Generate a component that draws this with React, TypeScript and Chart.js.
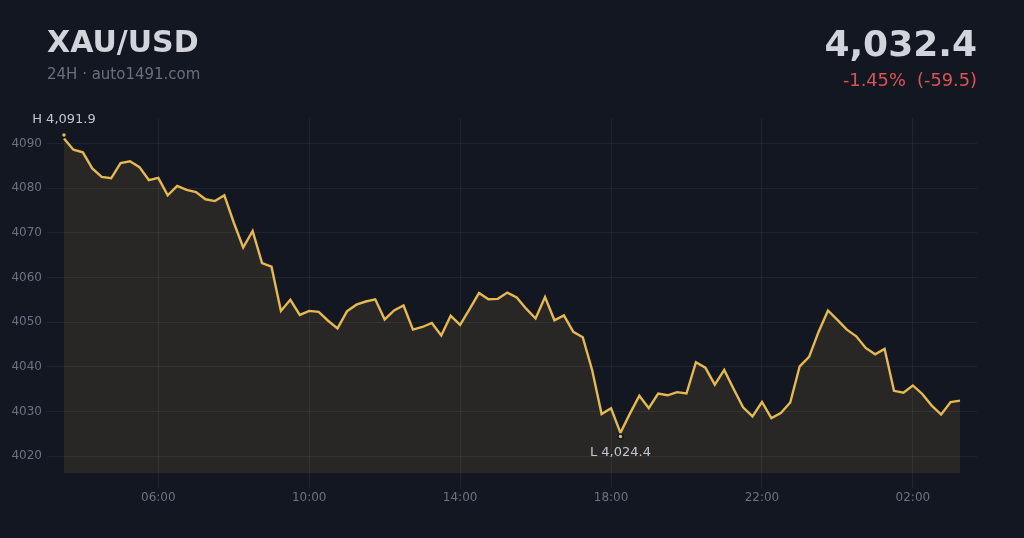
import React, { useEffect, useRef } from "react";
import { Chart, registerables } from "chart.js";

Chart.register(...registerables);

const SYMBOL = "XAU/USD";
const SUBTITLE = "24H · auto1491.com";
const LAST_PRICE = "4,032.4";
const CHANGE_TEXT = "-1.45%  (-59.5)";

const START_HOUR = 3.5; // 03:30
const STEP_HOURS = 0.25; // 15-minute bars

const PRICES: number[] = [
  4091.1, 4088.6, 4088.0, 4084.4, 4082.5, 4082.2, 4085.6, 4086.0, 4084.7, 4081.8,
  4082.3, 4078.4, 4080.5, 4079.6, 4079.1, 4077.5, 4077.1, 4078.4, 4072.3, 4066.7,
  4070.4, 4063.2, 4062.4, 4052.5, 4055.0, 4051.6, 4052.5, 4052.3, 4050.3, 4048.6,
  4052.4, 4053.9, 4054.6, 4055.1, 4050.6, 4052.6, 4053.7, 4048.3, 4048.9, 4049.8,
  4047.0, 4051.4, 4049.4, 4052.9, 4056.5, 4055.1, 4055.2, 4056.6, 4055.5, 4053.0,
  4050.8, 4055.6, 4050.4, 4051.5, 4047.8, 4046.6, 4039.2, 4029.4, 4030.7, 4025.2,
  4029.5, 4033.5, 4030.7, 4034.0, 4033.6, 4034.3, 4034.0, 4041.0, 4039.8, 4036.0,
  4039.3, 4035.0, 4030.9, 4028.9, 4032.1, 4028.5, 4029.6, 4032.0, 4040.1, 4042.2,
  4047.8, 4052.6, 4050.5, 4048.3, 4046.8, 4044.2, 4042.8, 4044.0, 4034.6, 4034.2,
  4035.8, 4033.9, 4031.3, 4029.3, 4032.1, 4032.4,
];

const HIGH_INDEX = 0;
const HIGH_VALUE = 4091.9;
const LOW_INDEX = 59;
const LOW_VALUE = 4024.4;

const X_TICK_HOURS = [6, 10, 14, 18, 22, 26];
const Y_TICKS = [4020, 4030, 4040, 4050, 4060, 4070, 4080, 4090];
const Y_MIN = 4016.2;
const Y_MAX = 4095.7;
const X_MIN = 3.05;
const X_MAX = 27.7;

const BG = "#131722";
const GOLD = "#e6b94f";
const FONT = "'DejaVu Sans', sans-serif";

const fmt = (v: number) =>
  v.toLocaleString("en-US", { minimumFractionDigits: 1, maximumFractionDigits: 1 });

export default function App() {
  const ref = useRef<HTMLCanvasElement | null>(null);

  useEffect(() => {
    if (!ref.current) return;
    const lineData = PRICES.map((p, i) => ({ x: START_HOUR + i * STEP_HOURS, y: p }));
    const markerData = [
      { x: START_HOUR + HIGH_INDEX * STEP_HOURS, y: HIGH_VALUE },
      { x: START_HOUR + LOW_INDEX * STEP_HOURS, y: LOW_VALUE },
    ];
    const markerLabels = ["H " + fmt(HIGH_VALUE), "L " + fmt(LOW_VALUE)];

    const hlPlugin = {
      id: "hlLabels",
      afterDatasetsDraw(chart: any) {
        const meta = chart.getDatasetMeta(1);
        const ctx = chart.ctx;
        ctx.save();
        ctx.font = `13px ${FONT}`;
        ctx.fillStyle = "#c3c6ce";
        ctx.textAlign = "center";
        ctx.textBaseline = "alphabetic";
        meta.data.forEach((pt: any, i: number) => {
          const dy = i === 0 ? -12 : 19.5;
          ctx.fillText(markerLabels[i], pt.x, pt.y + dy);
        });
        ctx.restore();
      },
    };

    const chart = new Chart(ref.current, {
      type: "line",
      data: {
        datasets: [
          {
            data: lineData,
            borderColor: GOLD,
            borderWidth: 2.4,
            pointRadius: 0,
            tension: 0,
            fill: "start",
            backgroundColor: "rgba(230,185,79,0.1)",
            order: 2,
          },
          {
            data: markerData,
            showLine: false,
            pointRadius: 2.5,
            pointBackgroundColor: GOLD,
            pointBorderColor: BG,
            pointBorderWidth: 1.5,
            fill: false,
            order: 1,
          },
        ],
      },
      options: {
        animation: false,
        responsive: false,
        maintainAspectRatio: false,
        layout: { padding: { left: 0, right: 47, top: 118, bottom: 30 } },
        plugins: { legend: { display: false }, tooltip: { enabled: false } },
        scales: {
          x: {
            type: "linear",
            min: X_MIN,
            max: X_MAX,
            afterBuildTicks: (scale: any) => {
              scale.ticks = X_TICK_HOURS.map((v) => ({ value: v }));
            },
            afterFit: (scale: any) => {
              scale.height = 35;
            },
            grid: {
              color: "rgba(255,255,255,0.06)",
              drawTicks: true,
              tickLength: 15,
              lineWidth: 1,
            },
            border: { display: false },
            ticks: {
              autoSkip: false,
              maxRotation: 0,
              padding: 3,
              color: "#6e7280",
              font: { family: FONT, size: 12 },
              callback: (v: any) => {
                const h = Math.round(Number(v)) % 24;
                return String(h).padStart(2, "0") + ":00";
              },
            },
          },
          y: {
            min: Y_MIN,
            max: Y_MAX,
            afterBuildTicks: (scale: any) => {
              scale.ticks = Y_TICKS.map((v) => ({ value: v }));
            },
            afterFit: (scale: any) => {
              scale.width = 47;
            },
            grid: { color: "rgba(255,255,255,0.06)", drawTicks: false, lineWidth: 1 },
            border: { display: false },
            ticks: {
              autoSkip: false,
              padding: 5,
              color: "#6e7280",
              font: { family: FONT, size: 12 },
              callback: (v: any) => String(v),
            },
          },
        },
      } as any,
      plugins: [hlPlugin],
    });
    return () => chart.destroy();
  }, []);

  return (
    <div
      style={{
        position: "fixed",
        left: 0,
        top: 0,
        width: 1024,
        height: 538,
        background: BG,
        fontFamily: FONT,
        overflow: "hidden",
      }}
    >
      <canvas
        ref={ref}
        width={1024}
        height={538}
        style={{ position: "absolute", left: 0, top: 0, width: 1024, height: 538 }}
      />
      <div
        style={{
          position: "absolute",
          left: 47,
          top: 27,
          fontSize: 30,
          lineHeight: "30px",
          fontWeight: 700,
          color: "#d1d4dc",
          whiteSpace: "pre",
        }}
      >
        {SYMBOL}
      </div>
      <div
        style={{
          position: "absolute",
          left: 47,
          top: 66.6,
          fontSize: 15,
          lineHeight: "15px",
          color: "#6a6f7c",
          whiteSpace: "pre",
        }}
      >
        {SUBTITLE}
      </div>
      <div
        style={{
          position: "absolute",
          right: 47,
          top: 26.2,
          fontSize: 36,
          lineHeight: "36px",
          fontWeight: 700,
          color: "#d1d4dc",
          whiteSpace: "pre",
        }}
      >
        {LAST_PRICE}
      </div>
      <div
        style={{
          position: "absolute",
          right: 47,
          top: 71,
          fontSize: 17.8,
          lineHeight: "17.8px",
          color: "#e05252",
          whiteSpace: "pre",
        }}
      >
        {CHANGE_TEXT}
      </div>
    </div>
  );
}
